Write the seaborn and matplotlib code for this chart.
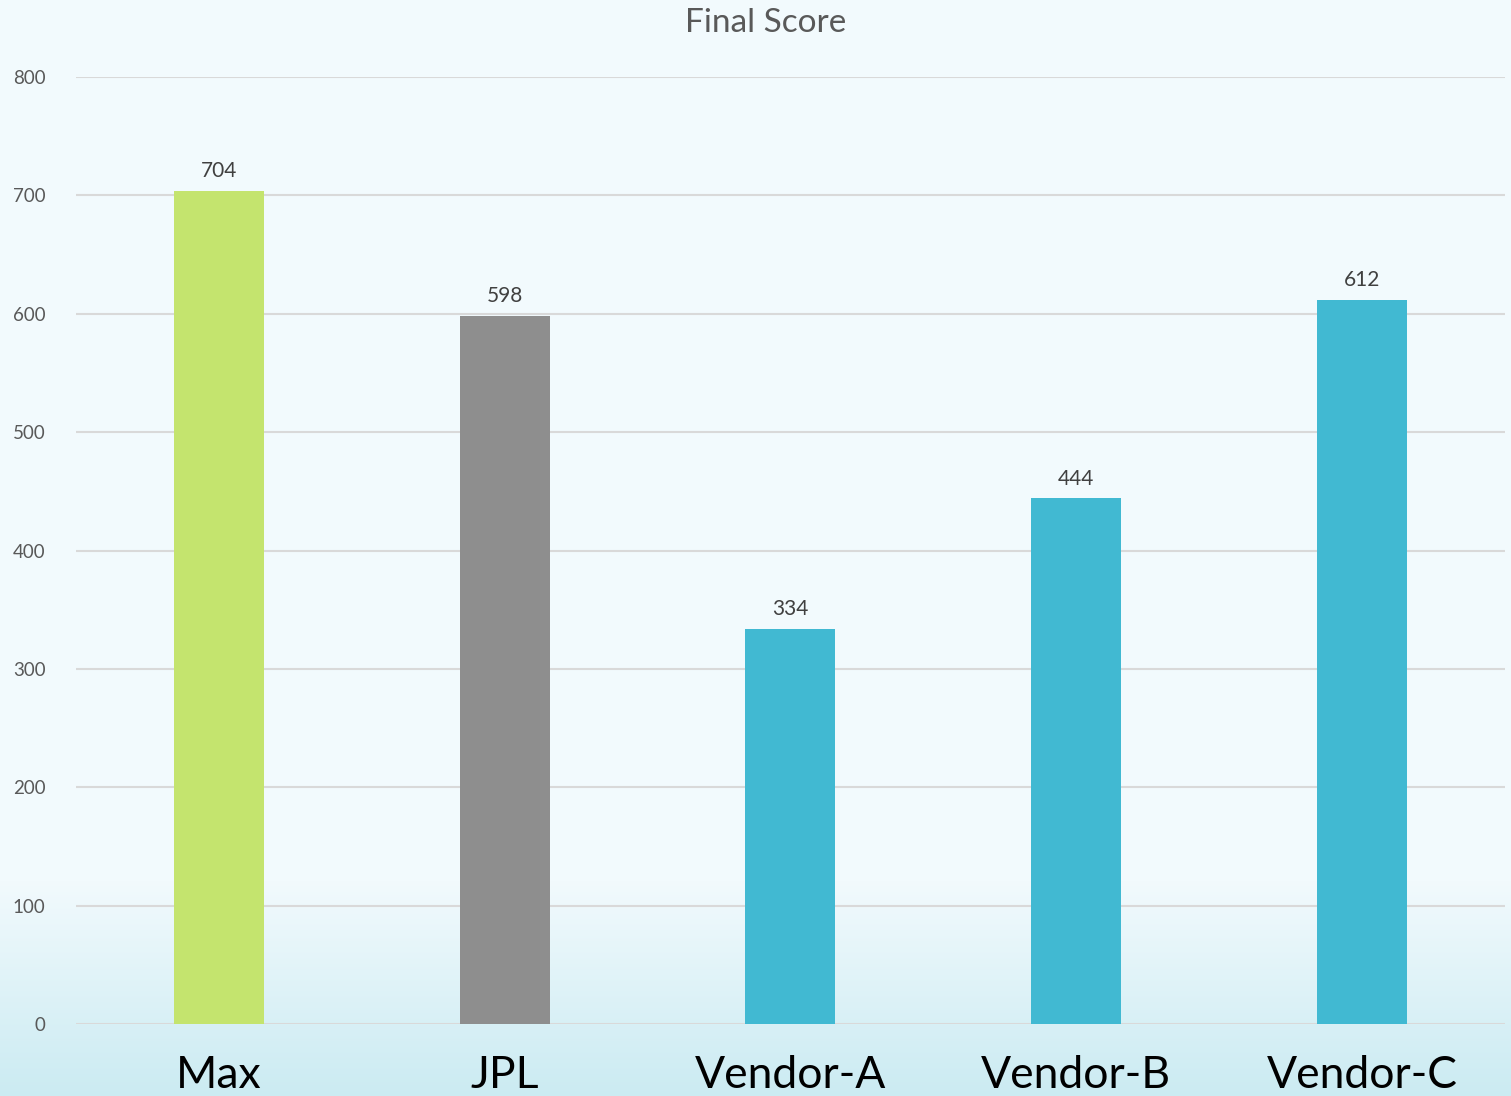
import numpy as np
import pandas as pd
import matplotlib
matplotlib.use("Agg")
import matplotlib.pyplot as plt
import seaborn as sns

# données
categories = ["Max", "JPL", "Vendor-A", "Vendor-B", "Vendor-C"]
scores = [704, 598, 334, 444, 612]
couleurs = ["#C4E46E", "#8E8E8E", "#41B9D2", "#41B9D2", "#41B9D2"]
yticks = [0, 100, 200, 300, 400, 500, 600, 700, 800]

df = pd.DataFrame({"categorie": categories, "score": scores})

sns.set_theme(style="white")
plt.rcParams['font.family'] = ['Lato', 'DejaVu Sans']

fig = plt.figure(figsize=(15.11, 10.96), dpi=100)

# fond dégradé
bg = fig.add_axes([0, 0, 1, 1], zorder=-1)
n = 1096
start = 880
t = np.clip((np.arange(n) - start) / (n - start), 0, 1)
top = np.array([0xF2, 0xFA, 0xFD]) / 255
bot = np.array([0xCB, 0xEB, 0xF2]) / 255
img = top[None, :] * (1 - t[:, None]) + bot[None, :] * t[:, None]
bg.imshow(img[:, None, :], aspect="auto", extent=[0, 1, 0, 1], origin="upper")
bg.axis("off")

ax = fig.add_axes([0.0503, 0.0657, 0.9457, 0.864])
ax.patch.set_alpha(0)

sns.barplot(data=df, x="categorie", y="score", hue="categorie",
            palette=dict(zip(categories, couleurs)), width=0.315,
            saturation=1, legend=False, ax=ax, zorder=3, linewidth=0)

ax.set_ylim(0, 800)
ax.set_yticks(yticks)
ax.set_yticklabels([str(v) for v in yticks], fontsize=13.5, color="#595959")
ax.set_xlim(-0.5, len(categories) - 0.5)
ax.tick_params(axis="x", labelsize=32, colors="black", length=0, pad=22)
ax.tick_params(axis="y", length=0, pad=22)
ax.set_xlabel("")
ax.set_ylabel("")
ax.grid(axis="y", color="#D9D9D9", linewidth=1.5, zorder=0)
ax.set_axisbelow(True)
for s in ax.spines.values():
    s.set_visible(False)

for c in ax.containers:
    ax.bar_label(c, fontsize=15, color="#404040", padding=7)

fig.text(0.507, 0.979, "Final Score", ha="center", va="center",
         fontsize=24, color="#595959")

fig.savefig("out.png", dpi=100)
